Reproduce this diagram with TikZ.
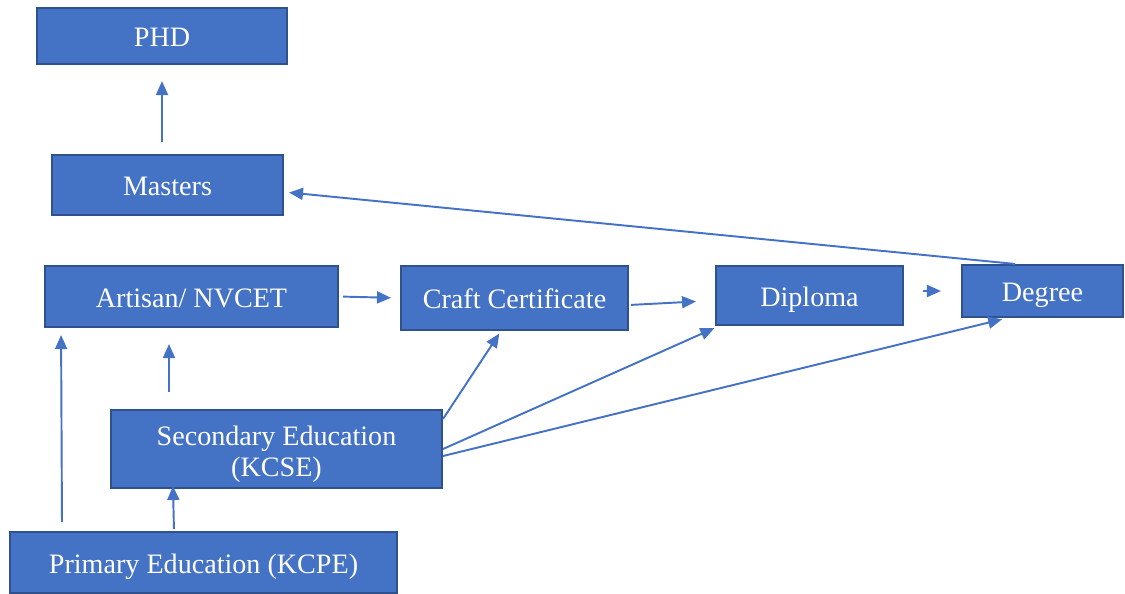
\documentclass[tikz,border=0pt]{standalone}
\usepackage{fontspec}
\setmainfont{Liberation Serif}
\usetikzlibrary{arrows.meta}
\definecolor{boxfill}{HTML}{4472C4}
\definecolor{boxline}{HTML}{2F528F}
\tikzstyle{arrow} = [draw=boxfill,line width=1.1pt,-{Triangle[length=2.8mm,width=2.4mm]}]
\tikzset{level/.style={rectangle,draw=boxline,line width=1.2pt,fill=boxfill,text=white,inner sep=2pt,text height=16pt,text depth=3.6pt,font=\fontsize{16}{17.6}\selectfont}}

\begin{document}
\begin{tikzpicture}[x=0.02cm,y=-0.02cm]
    \useasboundingbox (0,0) rectangle (1125,593);

    \node [level, minimum width=5cm, minimum height=1.12cm] (phd) at (162,36) {PHD};
    \node [level, minimum width=4.62cm, minimum height=1.2cm] (masters) at (167.5,185) {Masters};
    \node [level, minimum width=5.86cm, minimum height=1.22cm] (artisan) at (191.5,296.5) {Artisan/ NVCET};
    \node [level, minimum width=4.54cm, minimum height=1.28cm] (craft) at (514.5,298) {Craft Certificate};
    \node [level, minimum width=3.74cm, minimum height=1.18cm] (diploma) at (809.5,295.5) {Diploma};
    \node [level, minimum width=3.22cm, minimum height=1.04cm] (degree) at (1042.5,291) {Degree};
    \node [level, minimum width=6.62cm, minimum height=1.56cm, text height=35pt, align=center] (secondary) at (276.5,449) {Secondary Education\\(KCSE)};
    \node [level, minimum width=7.74cm, minimum height=1.22cm] (primary) at (203.5,562.5) {Primary Education (KCPE)};

    % upward routes
    \draw [arrow, shorten <=0.24cm, shorten >=0.32cm] (phd.south |- masters.north) -- (phd.south);
    \draw [arrow, shorten <=0.34cm, shorten >=0.32cm] ([xshift=-2.15cm]secondary.north) -- ([xshift=-0.45cm]artisan.south);
    \draw [arrow, shorten <=0.18cm, shorten >=0.14cm] ([xshift=-2.83cm]primary.north) -- ([xshift=-2.61cm]artisan.south);
    \draw [arrow, shorten <=0.04cm, shorten >=-0.06cm] ([xshift=-0.59cm]primary.north) -- ([xshift=-2.07cm]secondary.south);

    % across the middle row
    \draw [arrow, shorten <=0.08cm, shorten >=0.18cm] (artisan.east) -- (craft.west);
    \draw [arrow, shorten <=0.04cm, shorten >=0.38cm] ([yshift=-0.14cm]craft.east) -- ([yshift=-0.1cm]diploma.west);
    \draw [arrow, shorten <=0.38cm, shorten >=0.4cm] (diploma.east |- degree.west) -- (degree.west);
    \draw [arrow, shorten >=0.1cm] ([xshift=-0.55cm]degree.north) -- ([yshift=-0.14cm]masters.east);

    % from secondary
    \draw [arrow, shorten >=0.06cm] ([yshift=-0.2cm]secondary.north east) -- ([xshift=-0.27cm]craft.south);
    \draw [arrow, shorten >=0.1cm] (secondary.east) -- ([xshift=0.08cm]diploma.south west);
    \draw [arrow, shorten >=0.1cm] ([yshift=-0.14cm]secondary.east) -- ([xshift=-0.71cm]degree.south);
\end{tikzpicture}
\end{document}
